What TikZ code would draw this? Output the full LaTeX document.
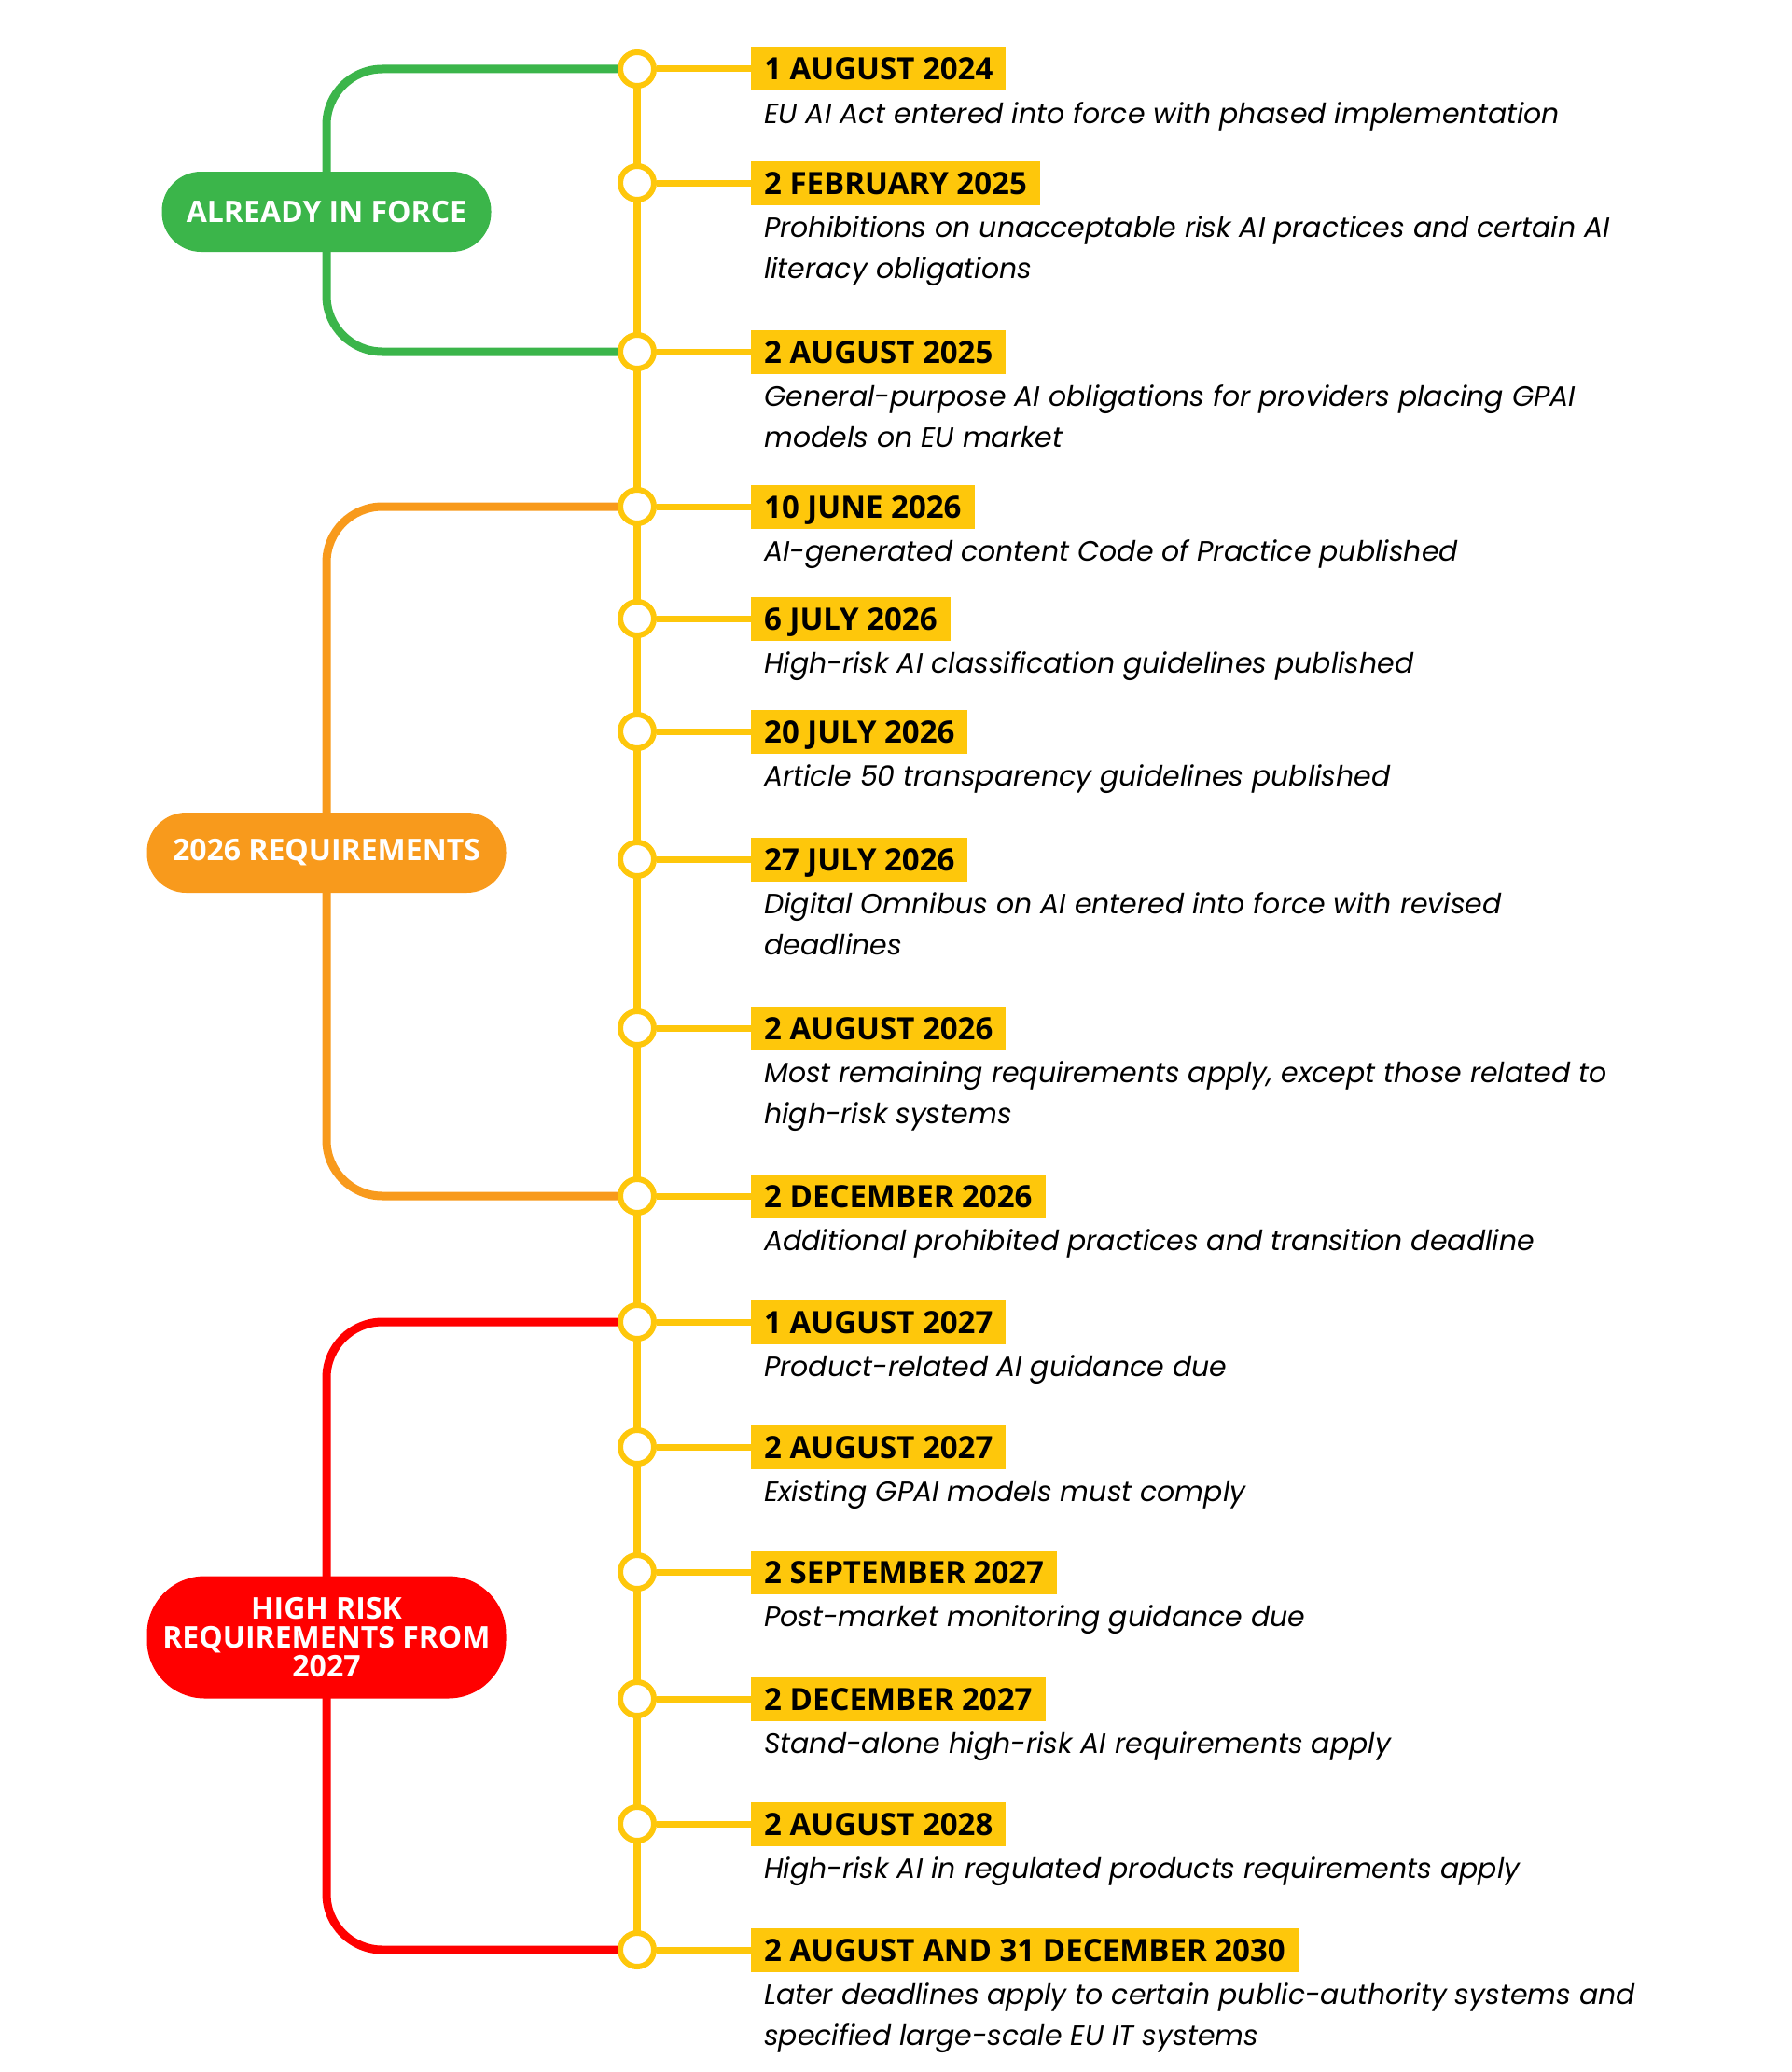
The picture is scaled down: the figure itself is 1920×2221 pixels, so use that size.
\documentclass[tikz,border=0pt]{standalone}
\usepackage{fontspec}
\setmainfont{Poppins}
\newfontfamily\headfont{Open Sans}
\usetikzlibrary{positioning,backgrounds}
\definecolor{forcegreen}{HTML}{3BB54A}
\definecolor{reqorange}{HTML}{F89A1C}
\definecolor{riskred}{HTML}{FF0000}
\definecolor{lineyellow}{HTML}{FEC70B}
\newcommand\desclines[1]{\begin{tabular}[t]{@{}l@{}}#1\end{tabular}}

\begin{document}
\begin{tikzpicture}[
  x=1pt, y=-1pt,
  dot/.style={circle, draw=lineyellow, line width=6pt, fill=white, minimum size=36pt, inner sep=0pt},
  datebox/.style={fill=lineyellow, anchor=west, inner xsep=14pt, inner ysep=0pt, minimum height=47pt, text height=24pt, text depth=0pt, font=\headfont\bfseries\fontsize{33}{36}\selectfont},
  desc/.style={anchor=base west, inner sep=0pt, font=\itshape\fontsize{30}{44}\selectfont},
  pill/.style={rounded corners=42pt, text=white, align=center, minimum height=86pt, font=\headfont\bfseries\fontsize{32}{31}\selectfont},
  bracket/.style={line width=9pt, rounded corners=60pt},
  spine/.style={line width=8pt, draw=lineyellow},
  tick/.style={line width=7pt, draw=lineyellow}
]
\useasboundingbox (0,0) rectangle (1920,2221);
% timeline items
\foreach \i/\y/\dt/\tx in {
  1/74/{1 AUGUST 2024}/{EU AI Act entered into force with phased implementation},
  2/196/{2 FEBRUARY 2025}/{Prohibitions on unacceptable risk AI practices and certain AI\\literacy obligations},
  3/377/{2 AUGUST 2025}/{General-purpose AI obligations for providers placing GPAI\\models on EU market},
  4/543/{10 JUNE 2026}/{AI-generated content Code of Practice published},
  5/663/{6 JULY 2026}/{High-risk AI classification guidelines published},
  6/784/{20 JULY 2026}/{Article 50 transparency guidelines published},
  7/921/{27 JULY 2026}/{Digital Omnibus on AI entered into force with revised\\deadlines},
  8/1102/{2 AUGUST 2026}/{Most remaining requirements apply, except those related to\\high-risk systems},
  9/1282/{2 DECEMBER 2026}/{Additional prohibited practices and transition deadline},
  10/1417/{1 AUGUST 2027}/{Product-related AI guidance due},
  11/1551/{2 AUGUST 2027}/{Existing GPAI models must comply},
  12/1685/{2 SEPTEMBER 2027}/{Post-market monitoring guidance due},
  13/1821/{2 DECEMBER 2027}/{Stand-alone high-risk AI requirements apply},
  14/1955/{2 AUGUST 2028}/{High-risk AI in regulated products requirements apply},
  15/2090/{2 AUGUST AND 31 DECEMBER 2030}/{Later deadlines apply to certain public-authority systems and\\specified large-scale EU IT systems}} {
  \node[dot] (c\i) at (683,\y) {};
  \node[datebox] (d\i) at (805,\y) {\dt};
  \node[desc] (t\i) at (819,\y+58) {\desclines{\tx}};
}
% group labels
\node[pill, fill=forcegreen, minimum width=353pt] (g1) at (350,227) {ALREADY IN FORCE};
\node[pill, fill=reqorange, minimum width=385pt] (g2) at (350,914) {2026 REQUIREMENTS};
\node[pill, fill=riskred, minimum width=385pt, minimum height=131pt, rounded corners=62pt] (g3) at (350,1755) {HIGH RISK\\REQUIREMENTS FROM\\2027};
% connectors
\begin{scope}[on background layer]
\draw[spine] (c1.center) -- (c15.center);
\foreach \i in {1,...,15} {\draw[tick] (c\i.east) -- (d\i.west);}
\draw[bracket, forcegreen] (c1.west) -| (g1.center) |- (c3.west);
\draw[bracket, reqorange] (c4.west) -| (g2.center) |- (c9.west);
\draw[bracket, riskred] (c10.west) -| (g3.center) |- (c15.west);
\end{scope}
\end{tikzpicture}
\end{document}
